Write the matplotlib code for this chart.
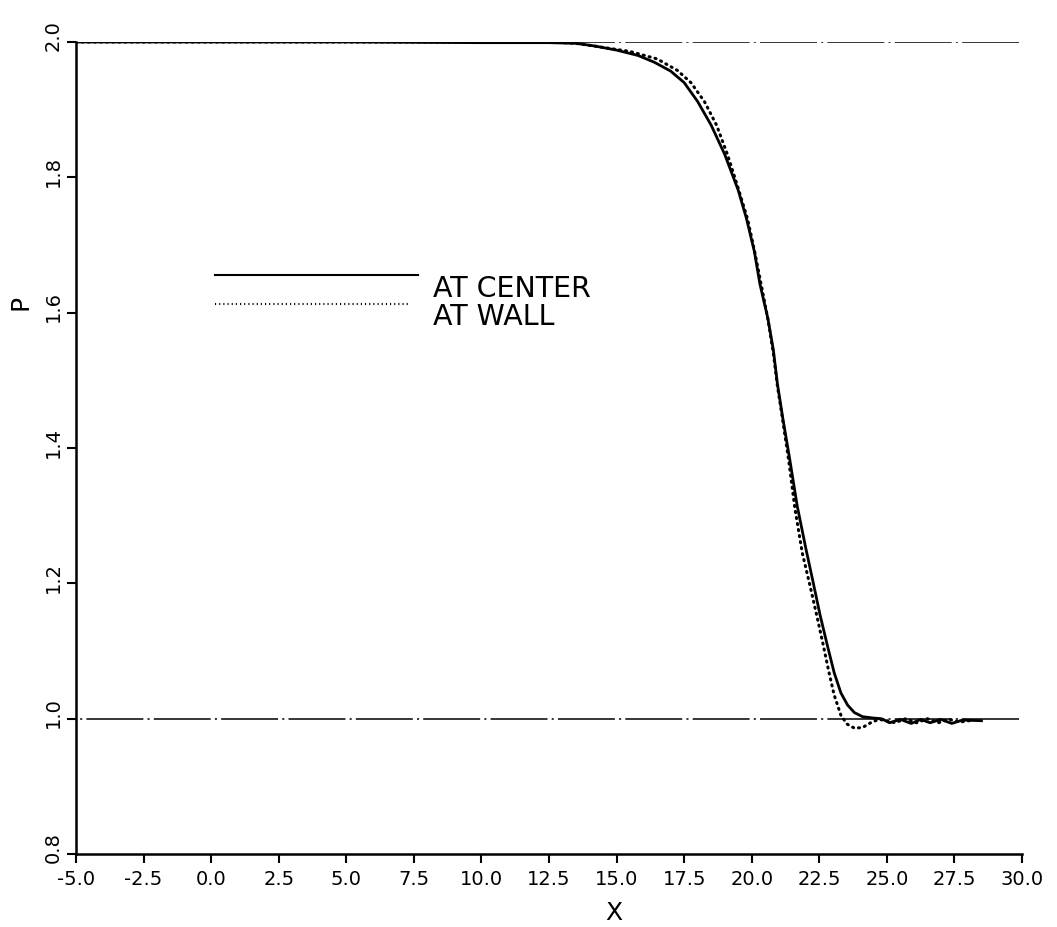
import numpy as np
import matplotlib
matplotlib.use("Agg")
import matplotlib.pyplot as plt
import matplotlib.transforms as mtransforms
from matplotlib.ticker import FormatStrFormatter

plt.rcParams['axes.unicode_minus'] = False
plt.rcParams['lines.scale_dashes'] = False
plt.rcParams['font.family'] = 'DejaVu Sans'

# pressure along the channel centre line
x_center = [-5.0, 0.0, 5.0, 10.0, 12.5, 13.5, 14.2, 15.0, 15.8, 16.4, 17.0, 17.5,
            18.0, 18.5, 19.0, 19.5, 19.8, 20.1, 20.3, 20.6, 20.8, 20.95, 21.15,
            21.4, 21.68, 22.0, 22.27, 22.53, 22.8, 23.05, 23.3, 23.55, 23.8, 24.1,
            24.5, 24.8, 25.1, 25.5, 25.9, 26.25, 26.6, 27.0, 27.4, 27.8, 28.5]
p_center = [2.0, 2.0, 2.0, 1.999, 1.999, 1.998, 1.994, 1.988, 1.980, 1.970, 1.957,
            1.940, 1.912, 1.877, 1.834, 1.781, 1.740, 1.690, 1.643, 1.591, 1.545,
            1.495, 1.444, 1.385, 1.315, 1.252, 1.202, 1.153, 1.108, 1.068, 1.038,
            1.020, 1.009, 1.003, 1.001, 1.000, 0.994, 0.999, 0.993, 0.999, 0.994,
            0.999, 0.993, 0.998, 0.997]

# pressure along the wall
x_wall = [-5.0, 5.0, 10.0, 12.5, 13.5, 14.5, 15.5, 16.5, 17.25, 17.75, 18.25,
          18.7, 19.1, 19.5, 19.85, 20.1, 20.35, 20.6, 20.8, 20.95, 21.15, 21.38,
          21.6, 21.87, 22.16, 22.42, 22.65, 22.85, 23.05, 23.3, 23.53, 23.8, 24.1,
          24.4, 24.7, 25.0, 25.3, 25.7, 26.1, 26.5, 26.9, 27.3, 27.7, 28.2]
p_wall = [2.0, 2.0, 2.0, 2.0, 1.998, 1.992, 1.986, 1.975, 1.958, 1.940, 1.912,
          1.877, 1.834, 1.784, 1.738, 1.692, 1.642, 1.590, 1.540, 1.492, 1.440,
          1.378, 1.310, 1.245, 1.196, 1.150, 1.108, 1.070, 1.035, 1.005, 0.992,
          0.986, 0.987, 0.994, 0.999, 0.997, 0.994, 1.000, 0.994, 1.000, 0.994,
          0.999, 0.995, 0.998]

# reference levels upstream and downstream
p_levels = [2.0, 1.0]
x_range = [-5.0, 30.0]

xticks = np.arange(-5.0, 30.01, 2.5)
yticks = np.arange(0.8, 2.01, 0.2)

fig = plt.figure(figsize=(10.57, 9.27), dpi=100)
ax = fig.add_axes([0.0719, 0.0787, 0.8950, 0.8760])

for lvl in p_levels:
    ax.plot(x_range, [lvl, lvl], color='black', lw=1.1,
            linestyle=(41, (41, 3, 1.5, 3)))

ax.plot(x_center, p_center, color='black', lw=2.0, solid_joinstyle='round')
ax.plot(x_wall, p_wall, color='black', lw=2.2, linestyle=(0, (0.8, 3.6)),
        dash_capstyle='round')

ax.set_xlim(x_range)
ax.set_ylim(0.8, 2.0)
ax.set_xticks(xticks)
ax.set_yticks(yticks)
ax.xaxis.set_major_formatter(FormatStrFormatter('%.1f'))
ax.yaxis.set_major_formatter(FormatStrFormatter('%.1f'))

for side in ['top', 'right']:
    ax.spines[side].set_visible(False)
for side in ['left', 'bottom']:
    ax.spines[side].set_linewidth(1.8)

ax.tick_params(axis='x', direction='out', length=6.5, width=1.5, pad=5,
               labelsize=14)
ax.tick_params(axis='y', direction='out', length=6.5, width=1.5, pad=3,
               labelsize=14, labelrotation=90)
# y labels sit a little above their ticks
shift = mtransforms.ScaledTranslation(0, 0.06, fig.dpi_scale_trans)
for lab in ax.get_yticklabels():
    lab.set_va('center')
    lab.set_transform(lab.get_transform() + shift)

ax.set_xlabel('X', fontsize=18)
ax.xaxis.set_label_coords(0.568, -0.058)
ax.set_ylabel('P', fontsize=18)
ax.yaxis.set_label_coords(-0.0465, 0.679)

# legend drawn by hand next to the curves
ax.plot([0.147, 0.362], [0.713, 0.713], transform=ax.transAxes, color='black',
        lw=1.5, clip_on=False)
ax.plot([0.147, 0.353], [0.677, 0.677], transform=ax.transAxes, color='black',
        lw=1.5, linestyle=(0, (0.8, 2.2)), clip_on=False)
ax.text(0.377, 0.686, 'AT CENTER', transform=ax.transAxes, fontsize=20.5,
        va='baseline', ha='left')
ax.text(0.377, 0.651, 'AT WALL', transform=ax.transAxes, fontsize=20.5,
        va='baseline', ha='left')

fig.savefig('out.png', dpi=100)
